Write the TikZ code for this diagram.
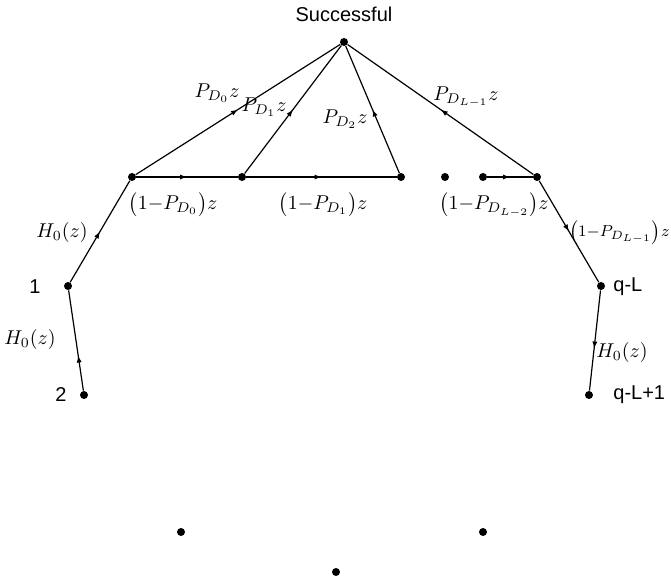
\documentclass[tikz,border=0pt]{standalone}
\usepackage{fontspec}
\setmainfont{Liberation Sans}
\usetikzlibrary{arrows.meta,decorations.markings}
\begin{document}
\begin{tikzpicture}[x=0.5pt, y=-0.5pt,
        dot/.style={circle, fill=black, inner sep=0pt, minimum size=4pt},
        link/.style={line width=0.6pt},
        midarrow/.style={link, postaction={decorate, decoration={markings, mark=at position #1 with {\arrow{Latex[length=3.5pt,width=2.6pt]}}}}},
        midarrow/.default=0.5,
        tag/.style={font=\normalsize, inner sep=1pt},
        gain/.style={font=\normalsize, inner sep=1pt}
    ]
        \useasboundingbox (0,0) rectangle (671,583);

        % top state
        \node[tag] (succ) at (344, 14) {Successful};
        \node[dot] (s) at (344, 42) {};

        % detection row
        \node[dot] (a0) at (132, 177) {};
        \node[dot] (a1) at (242, 177) {};
        \node[dot] (a2) at (401, 177) {};
        \node[dot] (gap) at (445, 177) {};
        \node[dot] (b) at (483, 177) {};
        \node[dot] (al) at (537, 177) {};

        % side chains
        \node[dot] (n1) at (68, 286) {};
        \node[dot] (n2) at (84, 395) {};
        \node[dot] (ql) at (601, 286) {};
        \node[dot] (qla) at (589, 395) {};
        \node[tag] (t1) at (35, 287) {1};
        \node[tag] (t2) at (61, 395) {2};
        \node[tag, anchor=west] (tql) at (611, 287) {q-L};
        \node[tag, anchor=west] (tqla) at (611, 395) {q-L+1};

        % bottom dots
        \node[dot] (c1) at (181, 532) {};
        \node[dot] (c2) at (483, 532) {};
        \node[dot] (c3) at (336, 572) {};

        % branches
        \draw[midarrow] (a0) -- (s);
        \draw[midarrow] (a1) -- (s);
        \draw[midarrow] (a2) -- (s);
        \draw[midarrow] (al) -- (s);
        \draw[midarrow] (a0) -- (a1);
        \draw[midarrow] (a1) -- (a2);
        \draw[midarrow] (b) -- (al);
        \draw[midarrow] (n1) -- (a0);
        \draw[midarrow=0.35] (n2) -- (n1);
        \draw[midarrow] (al) -- (ql);
        \draw[midarrow=0.58] (ql) -- (qla);

        % gains
        \node[gain] (g0) at (217, 93) {$P_{D_0}z$};
        \node[gain] (g1) at (264, 107) {$P_{D_1}z$};
        \node[gain] (g2) at (345, 119) {$P_{D_2}z$};
        \node[gain] (gl) at (466, 97) {$P_{D_{L-1}}z$};
        \node[gain] (f0) at (173, 205) {$\bigl(1{-}P_{D_0}\bigr)z$};
        \node[gain] (f1) at (323, 205) {$\bigl(1{-}P_{D_1}\bigr)z$};
        \node[gain] (fl2) at (494, 205) {$\bigl(1{-}P_{D_{L-2}}\bigr)z$};
        \node[gain, font=\footnotesize, inner sep=0pt, anchor=east] (fl1) at (670, 232) {$\bigl(1{-}P_{D_{L-1}}\bigr)z$};
        \node[gain] (h1) at (62, 233) {$H_0(z)$};
        \node[gain] (h2) at (30, 340) {$H_0(z)$};
        \node[gain] (h3) at (622, 353) {$H_0(z)$};
    \end{tikzpicture}
\end{document}
